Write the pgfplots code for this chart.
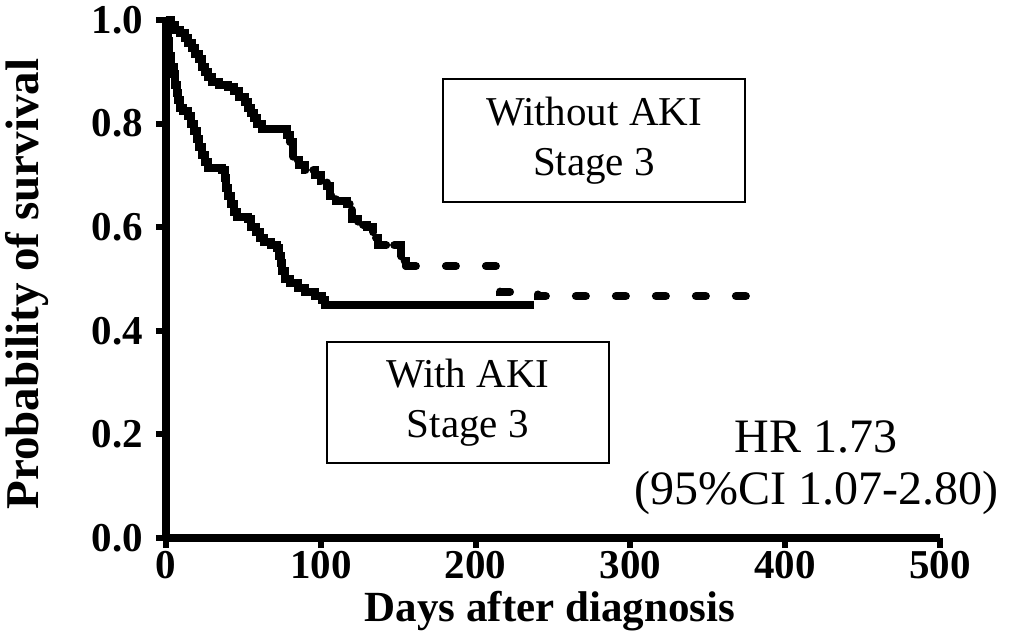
\documentclass[border=0pt]{standalone}
\usepackage{fontspec}
\setmainfont{Liberation Serif}
\usepackage{pgfplots}
\usepackage{pgfplotstable}
\pgfplotsset{compat=1.18}

% With AKI stage 3 (solid)
\pgfplotstableread{
x y
0 1.0
1 0.96
2 0.93
3 0.91
5 0.895
6 0.875
7 0.86
8 0.845
9 0.83
11 0.825
14 0.815
16 0.80
18 0.785
20 0.77
21 0.755
23 0.74
25 0.725
27 0.715
36 0.71
38 0.695
39 0.675
40 0.66
42 0.645
44 0.63
46 0.62
53 0.615
55 0.60
58 0.59
61 0.58
63 0.572
68 0.565
72 0.56
73 0.545
74 0.53
75 0.515
77 0.50
80 0.492
85 0.483
90 0.475
96 0.468
101 0.46
103 0.45
238 0.45
}\withaki

% Without AKI stage 3, early part
\pgfplotstableread{
x y
0 1.0
3 0.99
6 0.98
9 0.975
12 0.965
14 0.955
17 0.945
19 0.935
21 0.925
23 0.91
25 0.90
27 0.89
30 0.88
34 0.875
40 0.87
44 0.862
47 0.852
51 0.842
53 0.83
55 0.82
57 0.81
59 0.80
62 0.79
76 0.79
78 0.778
80 0.765
}\withoutakiA

% Without AKI stage 3, middle part
\pgfplotstableread{
x y
80 0.765
82 0.73
86 0.72
90 0.71
96 0.70
100 0.69
104 0.68
106 0.66
110 0.65
117 0.645
120 0.615
124 0.605
130 0.60
134 0.58
137 0.565
152 0.535
155 0.525
}\withoutakiB

% Without AKI stage 3, late part
\pgfplotstableread{
x y
155 0.525
212 0.525
214 0.50
216 0.475
237 0.475
240 0.467
392 0.467
}\withoutakiC

\begin{document}
\begin{tikzpicture}
\useasboundingbox (-83pt,-51pt) rectangle (426pt,269pt);
\begin{axis}[
  at={(0,0)}, anchor=south west,
  scale only axis, width=387pt, height=259pt,
  xmin=0, xmax=500, ymin=0, ymax=1,
  axis lines*=left,
  axis line style={line width=4pt, black},
  xtick={0,100,200,300,400,500},
  ytick={0,0.2,0.4,0.6,0.8,1.0},
  /pgf/number format/assume math mode=true,
  yticklabel style={xshift=-3pt, /pgf/number format/.cd, fixed, fixed zerofill, precision=1},
  xticklabel style={yshift=2pt},
  tick label style={font=\fontsize{20.5}{20.5}\selectfont\bfseries},
  tick align=outside, major tick length=5pt,
  tick style={line width=3pt, black},
  xlabel={Days after diagnosis},
  ylabel={Probability of survival},
  xlabel style={font=\fontsize{21.5}{21.5}\selectfont\bfseries, at={(axis description cs:0.496,-0.142)}, anchor=center},
  ylabel style={font=\fontsize{23.5}{23.5}\selectfont\bfseries, at={(axis description cs:-0.180,0.49)}, anchor=center},
  clip=false,
]
\addplot[const plot, black, line width=4pt, line join=miter] table[x=x,y=y] {\withaki};
\addplot[const plot, black, line width=4pt] table[x=x,y=y] {\withoutakiA};
\addplot[const plot, black, line width=4pt, line cap=round, dash pattern=on 9pt off 4pt] table[x=x,y=y] {\withoutakiB};
\addplot[const plot, black, line width=4pt, line cap=round, dash pattern=on 5pt off 15pt] table[x=x,y=y] {\withoutakiC};

\draw[line width=1pt] (axis cs:179,0.649) rectangle (axis cs:374,0.886);
\node[align=center, font=\fontsize{20.5}{25}\selectfont] at (axis cs:276.5,0.767) {Without AKI\\Stage 3};
\draw[line width=1pt] (axis cs:104,0.145) rectangle (axis cs:286,0.378);
\node[align=center, font=\fontsize{20.5}{25}\selectfont] at (axis cs:195,0.262) {With AKI\\Stage 3};
\node[align=center, font=\fontsize{24}{26}\selectfont] at (axis cs:420,0.135) {HR 1.73\\(95\%CI 1.07-2.80)};
\end{axis}
\end{tikzpicture}
\end{document}
